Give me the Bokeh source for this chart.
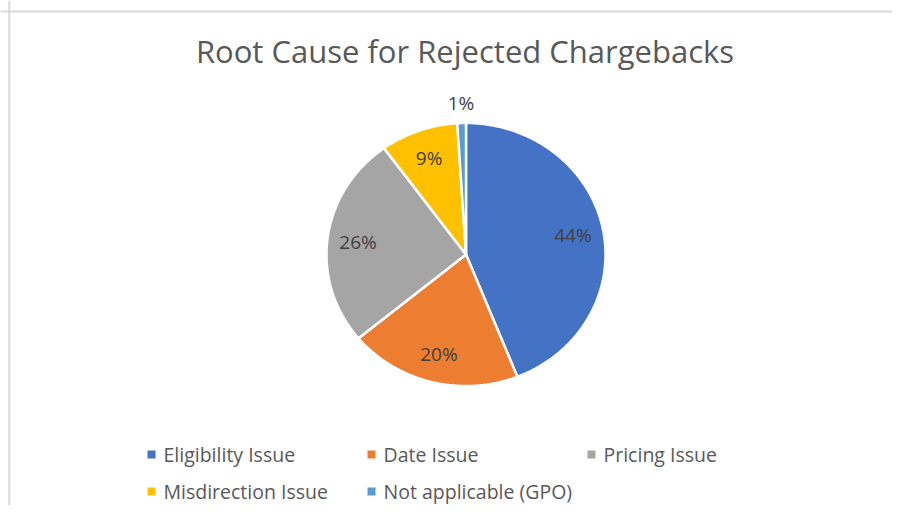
import numpy as np
from bokeh.plotting import figure
from bokeh.models import ColumnDataSource, Range1d, Span
from bokeh.core.properties import value
from bokeh.embed import file_html
from bokeh.resources import INLINE

# ---- data ----
categories = ["Eligibility Issue", "Date Issue", "Pricing Issue",
              "Misdirection Issue", "Not applicable (GPO)"]
percents = [44, 20, 26, 9, 1]
colors = ["#4472C4", "#ED7D31", "#A5A5A5", "#FFC000", "#5B9BD5"]
title_text = "Root Cause for Rejected Chargebacks"

# ---- layout (screen-like coordinates, y grows downward) ----
W, H = 892, 505
FONT = "Open Sans"
cx, cy = 465.5, 254.0
rx, ry = 139.5, 131.5

p = figure(width=W, height=H, output_backend="svg", toolbar_location=None,
           x_range=Range1d(0, W), y_range=Range1d(H, 0),
           min_border=0, outline_line_color=None, background_fill_color="white")
p.axis.visible = False
p.grid.visible = False

# chart-area border (top and left edges visible)
p.add_layout(Span(location=8.8, dimension="height", line_color="#D9D9D9", line_width=2))
p.add_layout(Span(location=11, dimension="width", line_color="#D9D9D9", line_width=2))

# ---- pie slices (clockwise from 12 o'clock) ----
vals = np.array(percents, dtype=float)
frac = vals / vals.sum()
ends = np.cumsum(frac) * 2 * np.pi
starts = ends - frac * 2 * np.pi
xs, ys = [], []
for a0, a1 in zip(starts, ends):
    t = np.linspace(a0, a1, max(int((a1 - a0) / 0.01), 4))
    xs.append([cx] + list(cx + rx * np.sin(t)) + [cx])
    ys.append([cy] + list(cy - ry * np.cos(t)) + [cy])
p.patches(xs=xs, ys=ys, fill_color=colors, line_color="white", line_width=2.5)

# ---- data labels ----
mids = (starts + ends) / 2
fac = np.where(frac < 0.05, 1.15, 0.78)
lab = ColumnDataSource(dict(
    x=cx + fac * rx * np.sin(mids),
    y=cy - fac * ry * np.cos(mids),
    t=[f"{v}%" for v in percents]))
p.text(x="x", y="y", text="t", source=lab, text_align="center",
       text_baseline="middle", text_font=value(FONT), text_font_size="19px",
       text_color="#404040")

# ---- title ----
p.text(x=[cx - 1], y=[50], text=[title_text], text_align="center",
       text_baseline="middle", text_font=value(FONT), text_font_size="31px",
       text_color="#595959")

# ---- legend (3 columns) ----
idx = np.arange(len(categories))
col, row = idx % 3, idx // 3
mx = 151 + col * 220
my = 454 + row * 37
p.scatter(x=mx, y=my, marker="square", size=8, fill_color=colors, line_color=None)
p.text(x=mx + 12, y=my, text=categories, text_align="left", text_baseline="middle",
       text_font=value(FONT), text_font_size="19.5px", text_color="#595959")

open("out.html", "w").write(file_html(p, INLINE))
